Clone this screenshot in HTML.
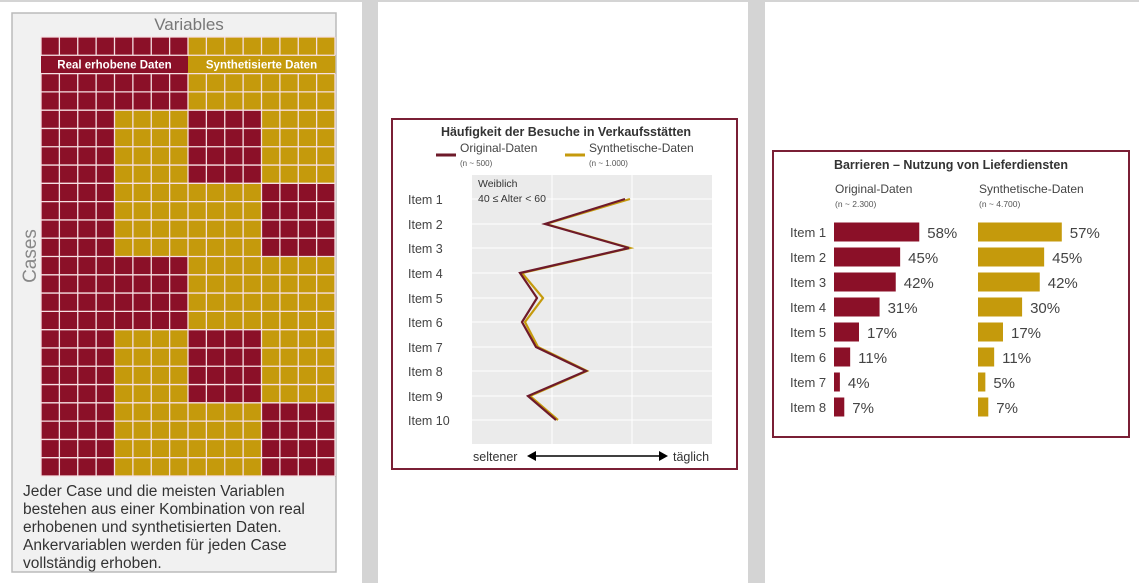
<!DOCTYPE html>
<html><head><meta charset="utf-8"><style>
html,body{margin:0;padding:0;background:#d6d6d6;}
svg{display:block;font-family:"Liberation Sans",sans-serif;}
</style></head><body>
<svg width="1139" height="583" viewBox="0 0 1139 583" xmlns="http://www.w3.org/2000/svg">
<rect width="1139" height="583" fill="#d4d4d4"/>
<rect x="0" y="2" width="362" height="581" fill="#fff"/>
<rect x="378" y="2" width="370" height="581" fill="#fff"/>
<rect x="765" y="2" width="374" height="581" fill="#fff"/>
<!-- Left panel -->
<rect x="12" y="13" width="324" height="559" fill="#f1f1f1" stroke="#bbb" stroke-width="1.5"/>
<text x="189" y="30" font-size="17" fill="#777" text-anchor="middle">Variables</text>
<text transform="translate(36,256) rotate(-90)" font-size="19" fill="#888" text-anchor="middle">Cases</text>
<g id="grid"></g>
<text x="23" y="496" font-size="15.5" fill="#333">Jeder Case und die meisten Variablen</text>
<text x="23" y="514" font-size="15.5" fill="#333">bestehen aus einer Kombination von real</text>
<text x="23" y="532" font-size="15.5" fill="#333">erhobenen und synthetisierten Daten.</text>
<text x="23" y="550" font-size="15.5" fill="#333">Ankervariablen werden für jeden Case</text>
<text x="23" y="568" font-size="15.5" fill="#333">vollständig erhoben.</text>
<!-- Middle chart -->
<rect x="392" y="119" width="345" height="350" fill="#fff" stroke="#7a1f35" stroke-width="2"/>
<text x="566" y="136" font-size="12.5" font-weight="bold" fill="#333" text-anchor="middle">Häufigkeit der Besuche in Verkaufsstätten</text>
<line x1="436" y1="155" x2="456" y2="155" stroke="#6e1a2a" stroke-width="3"/>
<text x="460" y="152" font-size="12" fill="#444">Original-Daten</text>
<text x="460" y="166" font-size="8" fill="#555">(n ~ 500)</text>
<line x1="565" y1="155" x2="585" y2="155" stroke="#c59a0c" stroke-width="3"/>
<text x="589" y="152" font-size="12" fill="#444">Synthetische-Daten</text>
<text x="589" y="166" font-size="8" fill="#555">(n ~ 1.000)</text>
<rect x="472" y="175" width="240" height="269" fill="#ebebeb"/>
<g stroke="#fff" stroke-width="1">
<line x1="552" y1="175" x2="552" y2="444"/><line x1="632" y1="175" x2="632" y2="444"/>
<line x1="472" y1="199" x2="712" y2="199"/><line x1="472" y1="224" x2="712" y2="224"/>
<line x1="472" y1="248" x2="712" y2="248"/><line x1="472" y1="273" x2="712" y2="273"/>
<line x1="472" y1="298" x2="712" y2="298"/><line x1="472" y1="322" x2="712" y2="322"/>
<line x1="472" y1="347" x2="712" y2="347"/><line x1="472" y1="371" x2="712" y2="371"/>
<line x1="472" y1="396" x2="712" y2="396"/><line x1="472" y1="420" x2="712" y2="420"/>
</g>
<text x="478" y="187" font-size="10.5" fill="#333">Weiblich</text>
<text x="478" y="202" font-size="10.5" fill="#333">40 ≤ Alter &lt; 60</text>
<g font-size="12.5" fill="#444">
<text x="408" y="204">Item 1</text><text x="408" y="229">Item 2</text><text x="408" y="253">Item 3</text>
<text x="408" y="278">Item 4</text><text x="408" y="303">Item 5</text><text x="408" y="327">Item 6</text>
<text x="408" y="352">Item 7</text><text x="408" y="376">Item 8</text><text x="408" y="401">Item 9</text>
<text x="408" y="425">Item 10</text>
</g>
<polyline fill="none" stroke="#c59a0c" stroke-width="2.2" points="630,199 546,224 630,248 522,273 543,298 525,322 538,347 587,371 530,396 558,420"/>
<polyline fill="none" stroke="#6e1a2a" stroke-width="2.2" points="625,199 545,224 629,248 520,273 537,298 522,322 536,347 586,371 528,396 556,420"/>
<text x="473" y="461" font-size="12.5" fill="#333">seltener</text>
<line x1="530" y1="456" x2="665" y2="456" stroke="#000" stroke-width="1.5"/>
<path d="M527,456 L536,451 L536,461 Z M668,456 L659,451 L659,461 Z" fill="#000"/>
<text x="673" y="461" font-size="12.5" fill="#333">täglich</text>
<!-- Right chart -->
<rect x="773" y="151" width="356" height="286" fill="#fff" stroke="#7a1f35" stroke-width="2"/>
<text x="951" y="169" font-size="12.5" font-weight="bold" fill="#333" text-anchor="middle">Barrieren – Nutzung von Lieferdiensten</text>
<text x="835" y="193" font-size="12" fill="#444">Original-Daten</text>
<text x="835" y="207" font-size="8.5" fill="#555">(n ~ 2.300)</text>
<text x="979" y="193" font-size="12" fill="#444">Synthetische-Daten</text>
<text x="979" y="207" font-size="8.5" fill="#555">(n ~ 4.700)</text>
<g id="bars"></g>
</svg>
<script>
(function(){
var NS="http://www.w3.org/2000/svg";
function el(p,t,a,txt){var e=document.createElementNS(NS,t);for(var k in a)e.setAttribute(k,a[k]);if(txt!=null)e.textContent=txt;p.appendChild(e);return e;}
var R="#8b1028",Y="#c59a0c";
var g=document.getElementById("grid");
var x0=41,y0=37,cw=294/16,ch=439/24;
function red(r,c){
 var b=Math.floor(r/4);
 if(b===0||b===3)return c<8;
 if(b===1||b===4)return c<4||(c>=8&&c<12);
 return c<4||c>=12;
}
for(var r=0;r<24;r++)for(var c=0;c<16;c++){
 var isR=red(r,c);
 el(g,"rect",{x:x0+c*cw,y:y0+r*ch,width:cw+0.3,height:ch+0.3,fill:isR?R:Y});
}
for(var r=0;r<=24;r++){
 el(g,"line",{x1:x0,x2:x0+294,y1:y0+r*ch,y2:y0+r*ch,stroke:"#f6dfe2","stroke-width":1.3});
}
for(var c=0;c<=16;c++){
 el(g,"line",{x1:x0+c*cw,x2:x0+c*cw,y1:y0,y2:y0+ch,stroke:"#f6dfe2","stroke-width":1.3});
 el(g,"line",{x1:x0+c*cw,x2:x0+c*cw,y1:y0+2*ch,y2:y0+439,stroke:"#f6dfe2","stroke-width":1.3});
}
// label row
el(g,"rect",{x:x0+0.6,y:y0+ch+0.6,width:8*cw-1.2,height:ch-1.2,fill:R});
el(g,"rect",{x:x0+8*cw+0.6,y:y0+ch+0.6,width:8*cw-1.2,height:ch-1.2,fill:Y});
el(g,"text",{x:x0+4*cw,y:y0+ch+13,"font-size":11.5,"font-weight":"bold",fill:"#fff","text-anchor":"middle"},"Real erhobene Daten");
el(g,"text",{x:x0+12*cw,y:y0+ch+13,"font-size":11.5,"font-weight":"bold",fill:"#fff","text-anchor":"middle"},"Synthetisierte Daten");
var b=document.getElementById("bars");
var o=[58,45,42,31,17,11,4,7],s=[57,45,42,30,17,11,5,7];
for(var i=0;i<8;i++){
 var cy=232+i*25;
 el(b,"text",{x:790,y:cy+5,"font-size":13,fill:"#444"},"Item "+(i+1));
 var w1=o[i]*1.47,w2=s[i]*1.47;
 el(b,"rect",{x:834,y:cy-9.5,width:w1,height:19,fill:R});
 el(b,"text",{x:834+w1+8,y:cy+6,"font-size":15,fill:"#444"},o[i]+"%");
 el(b,"rect",{x:978,y:cy-9.5,width:w2,height:19,fill:Y});
 el(b,"text",{x:978+w2+8,y:cy+6,"font-size":15,fill:"#444"},s[i]+"%");
}
})();
</script>
</body></html>
